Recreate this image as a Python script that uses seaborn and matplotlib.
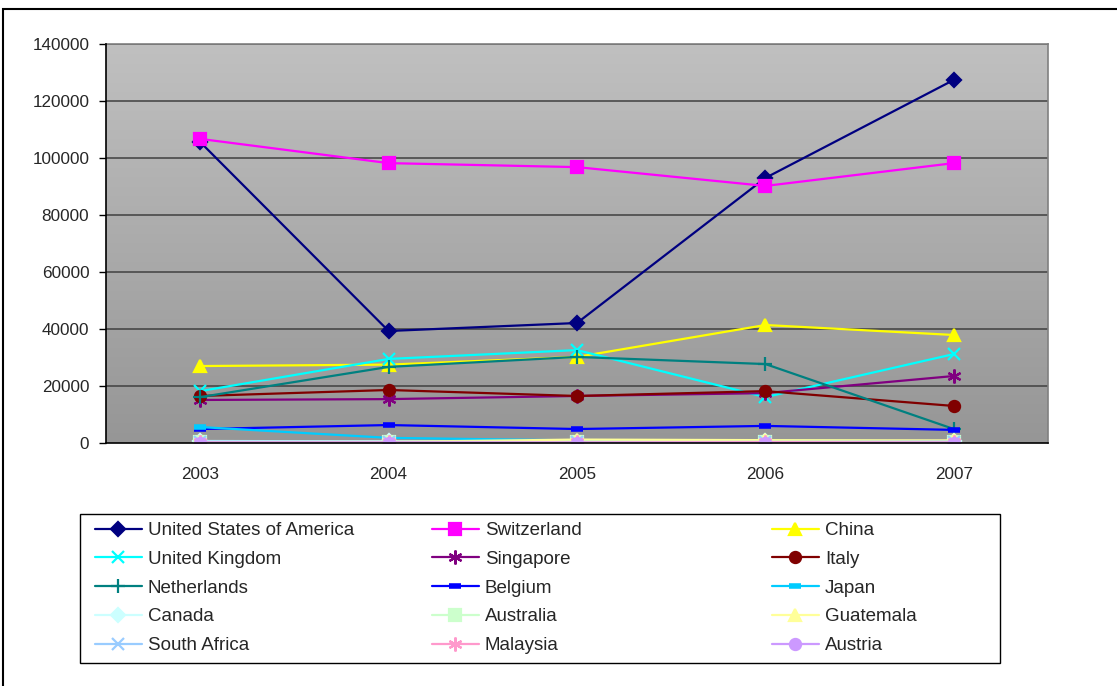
import numpy as np
import pandas as pd
import matplotlib
matplotlib.use("Agg")
import matplotlib.pyplot as plt
import seaborn as sns
from matplotlib.lines import Line2D
from matplotlib.colors import LinearSegmentedColormap

years = ["2003", "2004", "2005", "2006", "2007"]
countries = ["United States of America", "Switzerland", "China",
             "United Kingdom", "Singapore", "Italy",
             "Netherlands", "Belgium", "Japan",
             "Canada", "Australia", "Guatemala",
             "South Africa", "Malaysia", "Austria"]

usa = [105600, 39300, 42100, 93000, 127400]
switzerland = [106700, 98200, 96800, 90200, 98200]
china = [27000, 27500, 30200, 41400, 37900]
uk = [18200, 29500, 32600, 16100, 31200]
singapore = [15100, 15400, 16500, 17500, 23500]
italy = [16500, 18600, 16500, 18200, 13000]
netherlands = [16100, 26700, 30200, 27700, 4900]
belgium = [4900, 6300, 4900, 6000, 4600]
japan = [5600, 1800, 900, 800, 600]
canada = [700, 600, 500, 600, 700]
australia = [400, 300, 300, 400, 400]
guatemala = [300, 400, 1200, 1000, 900]
south_africa = [500, 400, 300, 400, 500]
malaysia = [200, 200, 200, 300, 200]
austria = [100, 100, 100, 100, 100]

series = [usa, switzerland, china, uk, singapore, italy, netherlands, belgium,
          japan, canada, australia, guatemala, south_africa, malaysia, austria]

colors = ["#000080", "#FF00FF", "#FFFF00", "#00FFFF", "#800080", "#800000",
          "#008080", "#0000FF", "#00CCFF", "#CCFFFF", "#CCFFCC", "#FFFF99",
          "#99CCFF", "#FF99CC", "#CC99FF"]
asterisk = (6, 2, 0)
markers = ["D", "s", "^", "x", asterisk, "o", "+", "_", "_",
           "D", "s", "^", "x", asterisk, "o"]
msizes = [7, 8, 9, 9, 10, 8, 10, 8, 8, 7, 8, 9, 9, 10, 8]

rows = []
for c, vals in zip(countries, series):
    for y, v in zip(years, vals):
        rows.append({"country": c, "year": y, "value": v})
df = pd.DataFrame(rows)

sns.set_style("white")
plt.rcParams["font.family"] = ["Liberation Sans", "DejaVu Sans"]

W, H = 1117, 686
fig = plt.figure(figsize=(W / 100, H / 100), dpi=100)
ax = fig.add_axes([106 / W, 1 - 443 / H, (1048 - 106) / W, (443 - 44) / H])

# gradient background (light at top, darker at bottom)
grad = np.linspace(0, 1, 256).reshape(-1, 1)
cmap = LinearSegmentedColormap.from_list("g", ["#C0C0C0", "#969696"])
ax.imshow(grad, cmap=cmap, aspect="auto", extent=(-0.5, 4.5, 0, 140000),
          origin="upper", zorder=0, interpolation="bicubic")

handles = []
for c, col, m, ms in zip(countries, colors, markers, msizes):
    sub = df[df["country"] == c]
    mew = 1.6
    if m == "_":
        mew = 4
    sns.lineplot(data=sub, x="year", y="value", ax=ax, color=col, marker=m,
                 markersize=ms, markeredgecolor=col, markerfacecolor=col,
                 markeredgewidth=mew, linewidth=1.6, zorder=3, legend=False,
                 sort=False)
    handles.append(Line2D([0], [0], color=col, marker=m, markersize=ms,
                          markeredgecolor=col, markerfacecolor=col,
                          markeredgewidth=mew, linewidth=1.6))

ax.set_xlim(-0.5, 4.5)
ax.set_ylim(0, 140000)
ax.set_yticks(np.arange(0, 140001, 20000))
ax.set_yticklabels([str(v) for v in range(0, 140001, 20000)], fontsize=12.3)
ax.set_xticks(range(5))
ax.set_xticklabels(years, fontsize=12.3)
ax.set_xticks(np.arange(-0.5, 4.6, 1), minor=True)
ax.tick_params(axis="x", which="major", length=0, pad=17)
ax.tick_params(axis="x", which="minor", length=5, width=1, color="black", direction="out")
ax.tick_params(axis="y", which="major", length=5, width=1, color="black", direction="out",
               left=True, pad=7)
ax.set_xlabel("")
ax.set_ylabel("")
ax.grid(False)
for gv in range(20000, 140001, 20000):
    ax.axhline(gv, color="#404040", linewidth=1.1, zorder=1)
for side in ["left", "bottom"]:
    ax.spines[side].set_color("black")
    ax.spines[side].set_linewidth(1.2)
    ax.spines[side].set_zorder(4)
for side in ["right", "top"]:
    ax.spines[side].set_color("#808080")
    ax.spines[side].set_linewidth(1.2)

# legend: three separate columns inside one frame
fig.add_artist(plt.Rectangle((80 / W, 1 - 663 / H), 920 / W, 149 / H,
                             transform=fig.transFigure, fill=False,
                             edgecolor="black", linewidth=1.0))
col_x = [95, 432, 772]
for ci, x0 in enumerate(col_x):
    idx = [r * 3 + ci for r in range(5)]
    leg = fig.legend([handles[i] for i in idx], [countries[i] for i in idx],
                     loc="upper left", bbox_to_anchor=(x0 / W, 1 - 522 / H),
                     fontsize=13.5, frameon=False, handlelength=2.5,
                     labelspacing=0.62, borderaxespad=0, borderpad=0,
                     handletextpad=0.32)

# outer chart border (left and top visible)
fig.add_artist(plt.Rectangle((3 / W, -0.05), 1.2, 1.05 - 9 / H, transform=fig.transFigure,
                             fill=False, edgecolor="black", linewidth=1.5))

fig.savefig("out.png", dpi=100)
